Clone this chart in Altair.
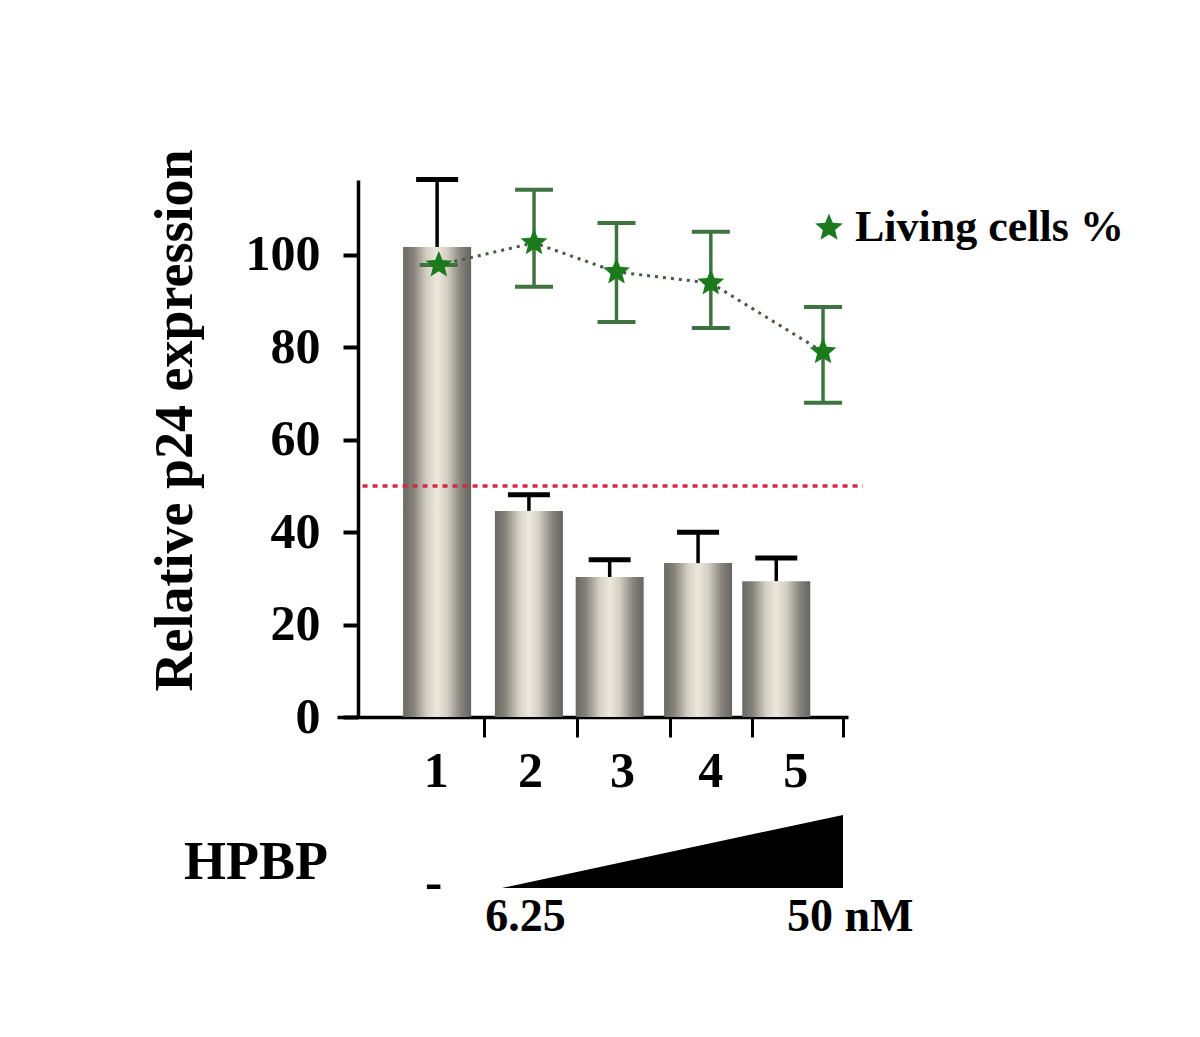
import altair as alt
import pandas as pd

FONT = "Liberation Serif"

# ---- data ----
groups = ["1", "2", "3", "4", "5"]
bar_pos = [0.97, 2.05, 3.0, 4.04, 4.96]
p24 = [101.7, 44.6, 30.3, 33.3, 29.4]
p24_err_top = [116.3, 48.1, 34.0, 40.0, 34.4]

star_pos = [0.99, 2.11, 3.08, 4.19, 5.51]
living = [97.8, 102.6, 96.3, 93.9, 79.0]
living_lo = [97.8, 93.1, 85.5, 84.2, 68.0]
living_hi = [97.8, 114.1, 106.9, 105.0, 88.7]

label_pos = [0.96, 2.07, 3.15, 4.19, 5.19]
label_y = [-12.0] * 5
xtick_vals = [1.524, 2.619, 3.715, 4.672, 5.745]
ytick_vals = [0, 20, 40, 60, 80, 100]

threshold = [50]
threshold_x = [0.093]
threshold_x2 = [5.98]

ramp_x = [1.73, 5.745]
ramp_y = [-37.0, -37.0]
ramp_y2 = [-37.0, -21.2]

ann_text = ["HPBP", "-", "6.25", "50 nM"]
ann_x = [-1.16, 0.93, 2.01, 5.83]
ann_y = [-31.5, -36.0, -43.3, -43.3]
ann_size = [54, 52, 46, 46]

STAR = ("M0,-1L0.26,-0.36L0.951,-0.309L0.42,0.137L0.588,0.809L0,0.44"
        "L-0.588,0.809L-0.42,0.137L-0.951,-0.309L-0.26,-0.36Z")

# ---- scales ----
x_scale = alt.Scale(domain=[-0.149, 5.745], nice=False, zero=False)
y_scale = alt.Scale(domain=[0, 116.2], nice=False, zero=False)

bars_df = pd.DataFrame({"group": groups, "pos": bar_pos, "p24": p24, "err": p24_err_top})
stars_df = pd.DataFrame({"pos": star_pos, "living": living, "lo": living_lo, "hi": living_hi,
                         "series": ["Living cells %"] * 5})
labels_df = pd.DataFrame({"group": groups, "pos": label_pos, "y": label_y})
thr_df = pd.DataFrame({"y": threshold, "x": threshold_x, "x2": threshold_x2})
ramp_df = pd.DataFrame({"x": ramp_x, "y": ramp_y, "y2": ramp_y2})
ann_df = pd.DataFrame({"text": ann_text, "x": ann_x, "y": ann_y, "size": ann_size})

gradient = alt.Gradient(
    gradient="linear",
    x1=0, x2=1, y1=0, y2=0,
    stops=[
        alt.GradientStop(color="#6a6863", offset=0.0),
        alt.GradientStop(color="#85827b", offset=0.15),
        alt.GradientStop(color="#d4d0c4", offset=0.35),
        alt.GradientStop(color="#ece8dc", offset=0.5),
        alt.GradientStop(color="#d2cec2", offset=0.65),
        alt.GradientStop(color="#85827c", offset=0.85),
        alt.GradientStop(color="#666460", offset=1.0),
    ],
)

x_axis = alt.Axis(values=xtick_vals, labels=False, tickSize=20, tickWidth=3,
                  domainWidth=3.5, domainColor="black", tickColor="black",
                  grid=False, title=None, orient="bottom")
y_axis = alt.Axis(values=ytick_vals, offset=-21, tickSize=15, tickWidth=4,
                  domainWidth=3.5, domainColor="black", tickColor="black",
                  grid=False, labelFont=FONT, labelFontSize=50, labelFontWeight="bold",
                  labelColor="black", labelPadding=23,
                  title="Relative p24 expression", titleFont=FONT, titleFontSize=54,
                  titleFontWeight="bold", titleColor="black", titleAngle=270,
                  titleX=-183, titleY=240, titleAlign="center", titleBaseline="middle")

bars = alt.Chart(bars_df).mark_bar(size=68, fill=gradient, orient="vertical").encode(
    x=alt.X("pos:Q", scale=x_scale, axis=x_axis),
    y=alt.Y("p24:Q", scale=y_scale, axis=y_axis, stack=None),
    y2=alt.datum(0),
)

bar_err = alt.Chart(bars_df).mark_rule(color="black", strokeWidth=3.5).encode(
    x=alt.X("pos:Q", scale=x_scale),
    y=alt.Y("p24:Q", scale=y_scale),
    y2="err:Q",
)
bar_caps = alt.Chart(bars_df).mark_tick(color="black", orient="horizontal",
                                         size=42, thickness=5, opacity=1).encode(
    x=alt.X("pos:Q", scale=x_scale),
    y=alt.Y("err:Q", scale=y_scale),
)

thr = alt.Chart(thr_df).mark_rule(color="#d42a48", strokeWidth=3.5,
                                   strokeDash=[5, 5], clip=False).encode(
    x=alt.X("x:Q", scale=x_scale), x2="x2:Q",
    y=alt.Y("y:Q", scale=y_scale),
)

green = "#1b7a1b"
green_err = "#3f7440"

star_line = alt.Chart(stars_df).mark_line(color="#4a574a", strokeWidth=3,
                                           strokeDash=[3, 5]).encode(
    x=alt.X("pos:Q", scale=x_scale),
    y=alt.Y("living:Q", scale=y_scale),
)
star_err = alt.Chart(stars_df).mark_rule(color=green_err, strokeWidth=3.5).encode(
    x=alt.X("pos:Q", scale=x_scale),
    y=alt.Y("lo:Q", scale=y_scale),
    y2="hi:Q",
)
star_cap_hi = alt.Chart(stars_df).mark_tick(color=green_err, orient="horizontal",
                                             size=38, thickness=4, opacity=1).encode(
    x=alt.X("pos:Q", scale=x_scale),
    y=alt.Y("hi:Q", scale=y_scale),
)
star_cap_lo = alt.Chart(stars_df).mark_tick(color=green_err, orient="horizontal",
                                             size=38, thickness=4, opacity=1).encode(
    x=alt.X("pos:Q", scale=x_scale),
    y=alt.Y("lo:Q", scale=y_scale),
)
stars = alt.Chart(stars_df).mark_point(shape=STAR, filled=True, size=800,
                                       opacity=1, strokeWidth=0).encode(
    x=alt.X("pos:Q", scale=x_scale),
    y=alt.Y("living:Q", scale=y_scale),
    color=alt.Color("series:N",
                    scale=alt.Scale(domain=["Living cells %"], range=[green]),
                    legend=alt.Legend(orient="none", legendX=470, legendY=26,
                                      title=None, padding=0, symbolType=STAR,
                                      symbolSize=850, symbolFillColor=green,
                                      symbolStrokeWidth=0, symbolOpacity=1,
                                      labelFont=FONT,
                                      labelFontSize=44, labelFontWeight="bold",
                                      labelColor="black", labelOffset=4,
                                      labelLimit=0)),
)

xlabels = alt.Chart(labels_df).mark_text(font=FONT, fontSize=50, fontWeight="bold",
                                         color="black", baseline="middle",
                                         align="center", clip=False).encode(
    x=alt.X("pos:Q", scale=x_scale),
    y=alt.Y("y:Q", scale=y_scale),
    text="group:N",
)

ramp = alt.Chart(ramp_df).mark_area(color="black", clip=False, opacity=1,
                                    orient="vertical").encode(
    x=alt.X("x:Q", scale=x_scale),
    y=alt.Y("y:Q", scale=y_scale),
    y2="y2:Q",
)

ann = alt.Chart(ann_df).mark_text(font=FONT, fontWeight="bold", color="black",
                                  baseline="middle", align="center", clip=False).encode(
    x=alt.X("x:Q", scale=x_scale),
    y=alt.Y("y:Q", scale=y_scale),
    text="text:N",
    size=alt.Size("size:Q", scale=None, legend=None),
)

chart = alt.layer(
    bars, bar_err, bar_caps, thr, star_line, star_err, star_cap_hi, star_cap_lo,
    stars, xlabels, ramp, ann,
).properties(
    width=511, height=537,
    autosize=alt.AutoSizeParams(type="none"),
    padding={"left": 329, "top": 172, "right": 340, "bottom": 312},
    background="white",
).configure_view(stroke=None).configure_axis(labelFlush=False)

chart.save("out.html", embed_options={"renderer": "svg", "actions": False})
